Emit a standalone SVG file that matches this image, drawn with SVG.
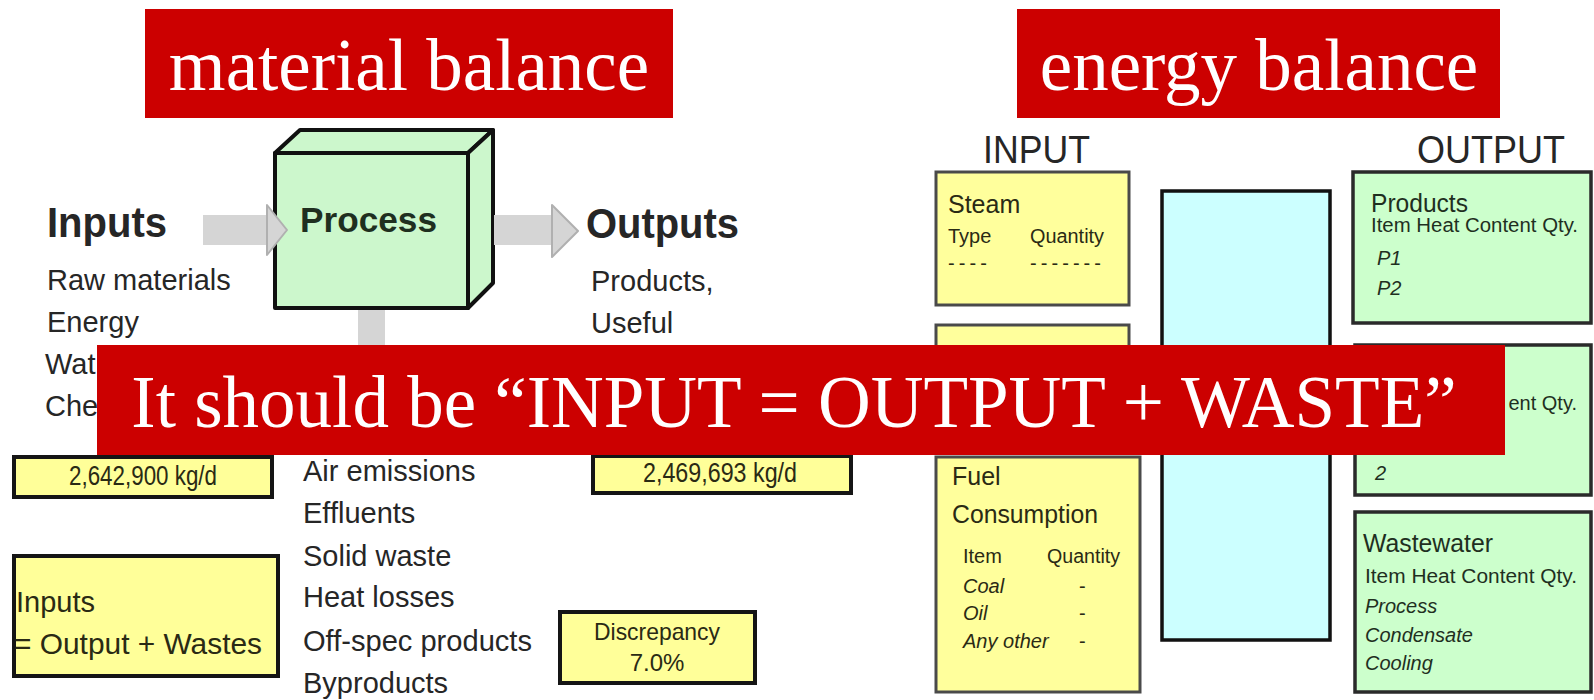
<svg xmlns="http://www.w3.org/2000/svg" width="1594" height="700" viewBox="0 0 1594 700">
<defs>
<style>
.s{font-family:"Liberation Sans",Arial,sans-serif;fill:#262626}
.b{font-weight:bold}
.i{font-style:italic}
.g{fill:#1f2f1f}
.y{fill:#2a2a14}
.banner{fill:#cc0000}
.bt{font-family:"Liberation Serif","Times New Roman",serif;fill:#ffffff;font-size:73px;text-anchor:middle}
.ybox{fill:#ffff99;stroke:#151515;stroke-width:4}
.ybox2{fill:#ffff9c;stroke:#4a4a4a;stroke-width:3}
.gbox{fill:#ccffcc;stroke:#2a2a2a;stroke-width:3.5}
.pbox{fill:#ccf7cc;stroke:#111111;stroke-width:4;stroke-linejoin:round}
.shaft{fill:#d5d5d5}
.head{fill:#d5d5d5;stroke:#b0b0b0;stroke-width:2;stroke-linejoin:round}
.f20{font-size:20px}
.f25{font-size:25px}
.f29{font-size:29px}
</style>
</defs>
<rect width="1594" height="700" fill="#ffffff"/>

<g id="inputs-list">
<text class="s b" x="47" y="237" font-size="43" textLength="120" lengthAdjust="spacingAndGlyphs">Inputs</text>
<text class="s f29" x="47" y="290">Raw materials</text>
<text class="s f29" x="47" y="332">Energy</text>
<text class="s f29" x="45" y="374">Wat</text>
<text class="s f29" x="45" y="416">Che</text>
</g>

<g id="process">
<polygon class="pbox" points="275,153 300,130 493,130 468,153"/>
<polygon class="pbox" points="468,153 493,130 493,283 468,308"/>
<rect class="pbox" x="275" y="153" width="193" height="155"/>
<text class="s b g" x="300" y="232" font-size="35" textLength="137" lengthAdjust="spacingAndGlyphs">Process</text>
</g>

<g id="outputs-list">
<text class="s b" x="586" y="238" font-size="43" textLength="153" lengthAdjust="spacingAndGlyphs">Outputs</text>
<text class="s f29" x="591" y="291">Products,</text>
<text class="s f29" x="591" y="333">Useful</text>
</g>

<g id="wastes-list">
<text class="s f29" x="303" y="481">Air emissions</text>
<text class="s f29" x="303" y="523">Effluents</text>
<text class="s f29" x="303" y="566">Solid waste</text>
<text class="s f29" x="303" y="607">Heat losses</text>
<text class="s f29" x="303" y="651" textLength="229" lengthAdjust="spacingAndGlyphs">Off-spec products</text>
<text class="s f29" x="303" y="693">Byproducts</text>
</g>

<g id="input-total">
<rect class="ybox" x="14" y="457" width="258" height="40"/>
<text class="s y" x="143" y="485" font-size="27" text-anchor="middle" textLength="148" lengthAdjust="spacingAndGlyphs">2,642,900 kg/d</text>
</g>

<g id="balance-equation">
<rect class="ybox" x="14" y="556" width="264" height="120"/>
<text class="s y f29" x="16" y="612">Inputs</text>
<text class="s y f29" x="14" y="654" textLength="248" lengthAdjust="spacingAndGlyphs">= Output + Wastes</text>
</g>

<g id="output-total">
<rect class="ybox" x="593" y="456" width="258" height="37"/>
<text class="s y" x="720" y="482" font-size="27" text-anchor="middle" textLength="154" lengthAdjust="spacingAndGlyphs">2,469,693 kg/d</text>
</g>

<g id="discrepancy">
<rect class="ybox" x="560" y="612" width="195" height="71"/>
<text class="s y" x="657" y="640" font-size="24" text-anchor="middle" textLength="126" lengthAdjust="spacingAndGlyphs">Discrepancy</text>
<text class="s y" x="657" y="671" font-size="24" text-anchor="middle">7.0%</text>
</g>

<g id="connectors">
<rect class="shaft" x="203" y="215" width="66" height="30"/>
<polygon class="head" points="267,205 287,230 267,255"/>
<rect class="shaft" x="494" y="215" width="60" height="30"/>
<polygon class="head" points="552,205 578,231 552,257"/>
<rect class="shaft" x="358" y="310" width="27" height="46"/>
</g>

<g id="energy-input-heading">
<text class="s" x="983" y="163" font-size="39" fill="#333" textLength="107" lengthAdjust="spacingAndGlyphs">INPUT</text>
</g>
<g id="energy-output-heading">
<text class="s" x="1417" y="163" font-size="39" textLength="148" lengthAdjust="spacingAndGlyphs">OUTPUT</text>
</g>

<g id="steam">
<rect class="ybox2" x="936" y="172" width="193" height="133"/>
<text class="s y f25" x="948" y="213">Steam</text>
<text class="s y f20" x="948" y="243">Type</text>
<text class="s y f20" x="1030" y="243" textLength="74" lengthAdjust="spacingAndGlyphs">Quantity</text>
<text class="s y f20" x="948" y="270" textLength="39" lengthAdjust="spacing">----</text>
<text class="s y f20" x="1030" y="270" textLength="71" lengthAdjust="spacing">-------</text>
</g>

<g id="input-box-2">
<rect class="ybox2" x="936" y="325" width="193" height="120"/>
</g>

<g id="fuel">
<rect class="ybox2" x="936" y="457" width="204" height="235"/>
<text class="s y f25" x="952" y="485">Fuel</text>
<text class="s y f25" x="952" y="523" textLength="146" lengthAdjust="spacingAndGlyphs">Consumption</text>
<text class="s y f20" x="963" y="563">Item</text>
<text class="s y f20" x="1047" y="563" textLength="73" lengthAdjust="spacingAndGlyphs">Quantity</text>
<text class="s y f20 i" x="963" y="593">Coal</text>
<text class="s y f20" x="1079" y="593">-</text>
<text class="s y f20 i" x="963" y="620">Oil</text>
<text class="s y f20" x="1079" y="620">-</text>
<text class="s y f20 i" x="963" y="648">Any other</text>
<text class="s y f20" x="1079" y="648">-</text>
</g>

<g id="system">
<rect x="1162" y="191" width="168" height="449" fill="#ccffff" stroke="#111" stroke-width="3.5"/>
</g>

<g id="products">
<rect class="gbox" x="1353" y="172" width="238" height="151"/>
<text class="s g f25" x="1371" y="212" textLength="97" lengthAdjust="spacingAndGlyphs">Products</text>
<text class="s g f20" x="1371" y="232" textLength="207" lengthAdjust="spacingAndGlyphs">Item Heat Content Qty.</text>
<text class="s g f20 i" x="1377" y="265">P1</text>
<text class="s g f20 i" x="1377" y="295">P2</text>
</g>

<g id="output-box-2">
<rect class="gbox" x="1355" y="345" width="236" height="150"/>
<text class="s g f20" x="1577" y="410" text-anchor="end">ent Qty.</text>
<text class="s g f20 i" x="1375" y="480">2</text>
</g>

<g id="wastewater">
<rect class="gbox" x="1355" y="512" width="236" height="180"/>
<text class="s g f25" x="1363" y="552" textLength="130" lengthAdjust="spacingAndGlyphs">Wastewater</text>
<text class="s g f20" x="1365" y="583" textLength="212" lengthAdjust="spacingAndGlyphs">Item Heat Content Qty.</text>
<text class="s g f20 i" x="1365" y="613">Process</text>
<text class="s g f20 i" x="1365" y="642">Condensate</text>
<text class="s g f20 i" x="1365" y="670">Cooling</text>
</g>

<g id="banner-material">
<rect class="banner" x="145" y="9" width="528" height="109"/>
<text class="bt" x="409" y="90">material balance</text>
</g>
<g id="banner-energy">
<rect class="banner" x="1017" y="9" width="483" height="109"/>
<text class="bt" x="1259" y="90">energy balance</text>
</g>
<g id="banner-note">
<rect class="banner" x="97" y="345" width="1408" height="110"/>
<text class="bt" x="794" y="427" font-size="74">It should be “INPUT = OUTPUT + WASTE”</text>
</g>
</svg>
